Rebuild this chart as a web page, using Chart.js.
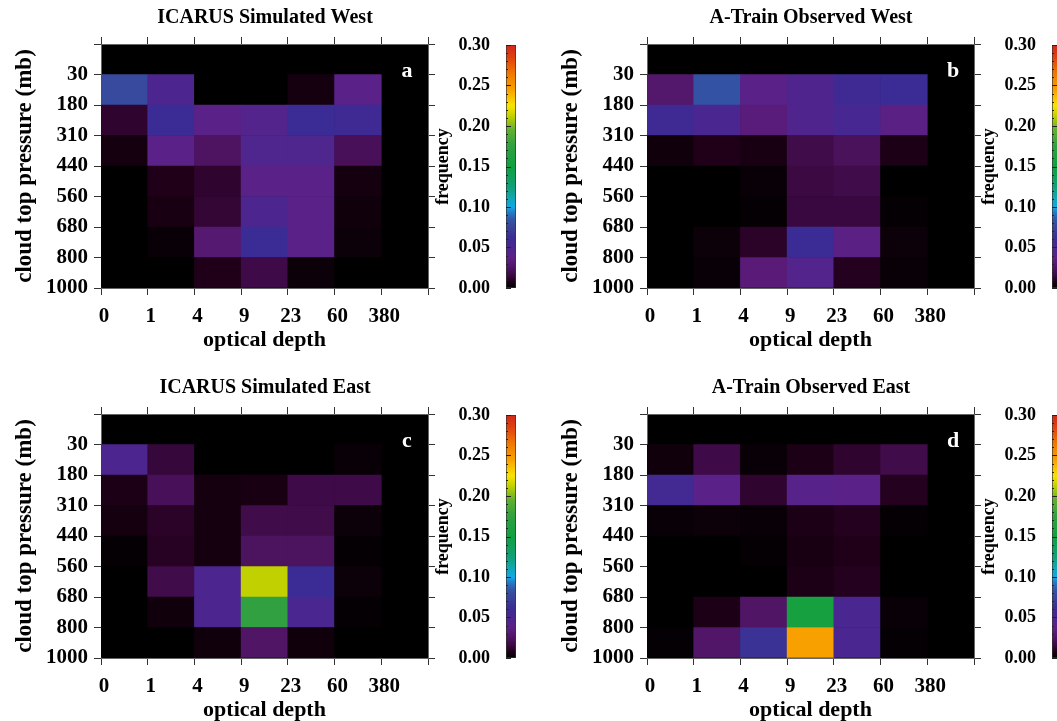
<!DOCTYPE html>
<html>
<head>
<meta charset="utf-8">
<title>Cloud top pressure / optical depth histograms</title>
<script src="https://cdn.jsdelivr.net/npm/chart.js@4.4.1/dist/chart.umd.min.js"></script>
<style>
  html, body { margin: 0; padding: 0; background: #fff; }
  #page { position: relative; width: 1057px; height: 721px; overflow: hidden; }
  #page canvas { position: absolute; }
</style>
</head>
<body>
<div id="page"></div>
<script>
// tick labels sit on the cell boundaries
const opticalDepthLabels = ['0', '1', '4', '9', '23', '60', '380', ''];
const pressureLabels = ['1000', '800', '680', '560', '440', '310', '180', '30', ''];

const panelTitles = ['ICARUS Simulated West', 'A-Train Observed West', 'ICARUS Simulated East', 'A-Train Observed East'];
const panelLetters = ['a', 'b', 'c', 'd'];

// frequency per cell: rows 30-180 mb (top) down to 800-1000 mb,
// columns tau 0-1, 1-4, 4-9, 9-23, 23-60, 60-380
const icarusWest = [
  [0.078, 0.048, 0.000, 0.000, 0.005, 0.040],
  [0.012, 0.062, 0.040, 0.045, 0.062, 0.058],
  [0.005, 0.040, 0.025, 0.047, 0.047, 0.022],
  [0.000, 0.008, 0.012, 0.040, 0.040, 0.005],
  [0.000, 0.006, 0.013, 0.048, 0.040, 0.004],
  [0.000, 0.002, 0.030, 0.062, 0.040, 0.003],
  [0.000, 0.000, 0.008, 0.017, 0.003, 0.000]
];
const atrainWest = [
  [0.028, 0.082, 0.040, 0.046, 0.058, 0.062],
  [0.058, 0.050, 0.033, 0.046, 0.052, 0.038],
  [0.004, 0.008, 0.006, 0.018, 0.023, 0.007],
  [0.000, 0.000, 0.002, 0.016, 0.018, 0.000],
  [0.000, 0.000, 0.001, 0.015, 0.015, 0.001],
  [0.000, 0.003, 0.011, 0.062, 0.038, 0.003],
  [0.000, 0.002, 0.032, 0.045, 0.009, 0.002]
];
const icarusEast = [
  [0.048, 0.014, 0.000, 0.000, 0.000, 0.002],
  [0.007, 0.022, 0.005, 0.006, 0.017, 0.017],
  [0.005, 0.011, 0.005, 0.018, 0.018, 0.003],
  [0.001, 0.010, 0.005, 0.024, 0.024, 0.001],
  [0.000, 0.018, 0.048, 0.212, 0.062, 0.003],
  [0.000, 0.004, 0.048, 0.175, 0.050, 0.001],
  [0.000, 0.000, 0.004, 0.026, 0.004, 0.000]
];
const atrainEast = [
  [0.004, 0.017, 0.002, 0.007, 0.012, 0.018],
  [0.055, 0.040, 0.012, 0.042, 0.040, 0.009],
  [0.002, 0.003, 0.002, 0.007, 0.009, 0.001],
  [0.000, 0.000, 0.001, 0.006, 0.008, 0.000],
  [0.000, 0.000, 0.000, 0.007, 0.009, 0.000],
  [0.000, 0.007, 0.026, 0.155, 0.050, 0.002],
  [0.001, 0.027, 0.065, 0.245, 0.050, 0.001]
];
const panelData = [icarusWest, atrainWest, icarusEast, atrainEast];

// black -> purple -> blue -> green -> yellow -> red, frequency 0 .. 0.30
const cmapStops = [0, 0.008, 0.015, 0.025, 0.033, 0.040, 0.050, 0.062, 0.075, 0.085, 0.093, 0.100,
  0.110, 0.125, 0.150, 0.175, 0.195, 0.212, 0.225, 0.245, 0.265, 0.285, 0.300];
const cmapColors = ['#000000', '#200018', '#3a0840', '#4e1462', '#5a1c7a', '#5a2288', '#4a2690',
  '#3a2c94', '#3a4498', '#3058a8', '#2878c0', '#10a8e8', '#10a8b8', '#10a078', '#10a040', '#30a040',
  '#60b030', '#c0d000', '#f8e400', '#f8a000', '#f07800', '#e04010', '#d02818'];
const freqMax = 0.30;

const serif = "'Liberation Serif', 'Times New Roman', serif";
const tickFont = { family: serif, size: 21, weight: 'bold' };
const axisTitleFont = { family: serif, size: 22, weight: 'bold' };

function hexToRgb(hex) {
  const n = parseInt(hex.slice(1), 16);
  return [(n >> 16) & 255, (n >> 8) & 255, n & 255];
}

function frequencyColor(v) {
  if (v <= cmapStops[0]) return cmapColors[0];
  for (let i = 1; i < cmapStops.length; i++) {
    if (v <= cmapStops[i]) {
      const t = (v - cmapStops[i - 1]) / (cmapStops[i] - cmapStops[i - 1]);
      const a = hexToRgb(cmapColors[i - 1]);
      const b = hexToRgb(cmapColors[i]);
      const c = a.map((ch, k) => Math.round(ch + (b[k] - ch) * t));
      return `rgb(${c[0]}, ${c[1]}, ${c[2]})`;
    }
  }
  return cmapColors[cmapColors.length - 1];
}

// each cell becomes a floating bar spanning one column and one pressure band
function toCells(grid) {
  const cells = [];
  const rows = grid.length;
  grid.forEach((row, r) => {
    row.forEach((v, c) => {
      cells.push({ x: c + 0.5, y: [rows - 1 - r, rows - r], v });
    });
  });
  return cells;
}

const plotBackground = {
  id: 'plotBackground',
  beforeDraw(chart) {
    const { ctx, chartArea: a } = chart;
    ctx.save();
    ctx.fillStyle = '#000';
    ctx.fillRect(a.left, a.top, a.width, a.height);
    ctx.restore();
  }
};

const panelLetter = {
  id: 'panelLetter',
  afterDraw(chart, args, opts) {
    const { ctx, chartArea } = chart;
    ctx.save();
    ctx.font = `bold 22px ${serif}`;
    ctx.fillStyle = '#fff';
    ctx.textAlign = 'center';
    ctx.fillText(opts.letter, chartArea.left + 306, chartArea.top + 33);
    ctx.restore();
  }
};

// short inward ticks on the colour bar, major at labels and minor between
const colorbarTicks = {
  id: 'colorbarTicks',
  afterDatasetsDraw(chart) {
    const { ctx, chartArea: a, scales } = chart;
    const y = scales.y;
    ctx.save();
    ctx.strokeStyle = '#222';
    ctx.lineWidth = 1;
    for (let v = 0; v <= freqMax + 1e-9; v += 0.01) {
      const major = Math.abs(v / 0.05 - Math.round(v / 0.05)) < 1e-6;
      const py = Math.round(y.getPixelForValue(v)) + 0.5;
      const len = major ? 5 : 2;
      ctx.beginPath();
      ctx.moveTo(a.left, py);
      ctx.lineTo(a.left + len, py);
      ctx.stroke();
    }
    ctx.restore();
  }
};

function addCanvas(left, top, width, height) {
  const canvas = document.createElement('canvas');
  canvas.width = width;
  canvas.height = height;
  canvas.style.left = left + 'px';
  canvas.style.top = top + 'px';
  document.getElementById('page').appendChild(canvas);
  return canvas;
}

function edgeAxis(position, extra) {
  return Object.assign({
    position,
    grid: { offset: false, drawOnChartArea: false, tickLength: 7, color: '#333' },
    border: { display: true, color: '#666' }
  }, extra);
}

function renderPanel(index, left, top) {
  const canvas = addCanvas(left, top, 530, 360);
  new Chart(canvas, {
    type: 'bar',
    data: {
      datasets: [{
        data: toCells(panelData[index]),
        backgroundColor: ctx => frequencyColor(ctx.raw.v),
        borderWidth: 0,
        barPercentage: 1,
        categoryPercentage: 1,
        xAxisID: 'x',
        yAxisID: 'y'
      }]
    },
    options: {
      responsive: false,
      animation: false,
      events: [],
      layout: { padding: { left: 0, right: 0, top: 0, bottom: 2 } },
      plugins: {
        legend: { display: false },
        tooltip: { enabled: false },
        title: {
          display: true,
          text: panelTitles[index],
          color: '#000',
          font: { family: serif, size: 20, weight: 'bold' },
          padding: { top: 6, bottom: 0 }
        },
        panelLetter: { letter: panelLetters[index] }
      },
      scales: {
        x: edgeAxis('bottom', {
          type: 'linear', min: 0, max: 7, offset: false,
          ticks: {
            stepSize: 1, autoSkip: false, maxRotation: 0, padding: 9, labelOffset: 3,
            color: '#000', font: tickFont,
            callback: v => opticalDepthLabels[v]
          },
          title: { display: true, text: 'optical depth', color: '#000', font: axisTitleFont, padding: { top: 0, bottom: 4 } },
          afterFit: s => { s.height = 70; }
        }),
        x2: edgeAxis('top', {
          type: 'linear', min: 0, max: 7, offset: false,
          ticks: { stepSize: 1, display: false },
          afterFit: s => { s.height = 14; }
        }),
        y: edgeAxis('left', {
          type: 'linear', min: 0, max: 8,
          ticks: {
            stepSize: 1, autoSkip: false, padding: 6,
            color: '#000', font: tickFont,
            callback: v => pressureLabels[v]
          },
          title: { display: true, text: 'cloud top pressure (mb)', color: '#000', font: { family: serif, size: 23, weight: 'bold' }, padding: { top: 11, bottom: 0 } },
          afterFit: s => { s.width = 101; }
        }),
        y2: edgeAxis('right', {
          type: 'linear', min: 0, max: 8,
          ticks: { stepSize: 1, display: false },
          afterFit: s => { s.width = 102; }
        })
      }
    },
    plugins: [plotBackground, panelLetter]
  });
}

function colorbarGradient(ctx) {
  const { chart } = ctx;
  const area = chart.chartArea;
  if (!area) return null;
  const g = chart.ctx.createLinearGradient(0, area.bottom, 0, area.top);
  cmapStops.forEach((s, i) => g.addColorStop(s / freqMax, cmapColors[i]));
  return g;
}

function renderColorbar(left, top) {
  const canvas = addCanvas(left, top, 100, 360);
  new Chart(canvas, {
    type: 'bar',
    data: {
      labels: [''],
      datasets: [{
        data: [[0, freqMax]],
        backgroundColor: colorbarGradient,
        borderWidth: 1,
        borderColor: '#333',
        borderSkipped: false,
        barPercentage: 1,
        categoryPercentage: 1
      }]
    },
    options: {
      responsive: false,
      animation: false,
      events: [],
      layout: { padding: { left: 0, right: 14, top: 45, bottom: 72 } },
      plugins: { legend: { display: false }, tooltip: { enabled: false } },
      scales: {
        x: { display: false },
        y: {
          min: 0, max: freqMax, position: 'left',
          grid: { display: false },
          border: { display: false },
          ticks: {
            stepSize: 0.05, padding: 8, color: '#000',
            font: { family: serif, size: 18, weight: 'bold' },
            callback: v => v.toFixed(2)
          },
          title: { display: true, text: 'frequency', color: '#000', font: { family: serif, size: 18, weight: 'bold' }, padding: { top: 3, bottom: 0 } },
          afterFit: s => { s.width = 76; }
        }
      }
    },
    plugins: [colorbarTicks]
  });
}

const panelSlots = [[0, 0], [546, 0], [0, 370], [546, 370]];
panelSlots.forEach(([left, top], i) => {
  renderPanel(i, left, top);
  renderColorbar(left + 430, top);
});
</script>
</body>
</html>
